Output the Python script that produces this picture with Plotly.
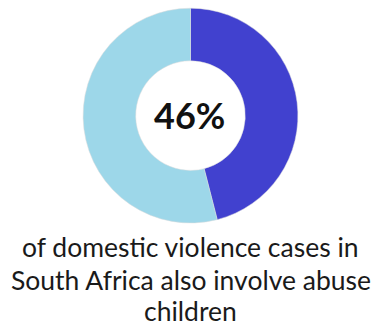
import plotly.graph_objects as go

labels = ["Involve child abuse", "Other"]
values = [46, 54]
colors = ["#4141CF", "#9DD7E9"]
center_label = "46%"
caption_lines = ["of domestic violence cases in", "South Africa also involve abuse", "children"]

fig = go.Figure(go.Pie(
    labels=labels, values=values, hole=0.51, sort=False, direction="clockwise",
    rotation=0, marker=dict(colors=colors, line=dict(color="#dddddd", width=0.5)),
    textinfo="none", hoverinfo="label+percent", showlegend=False,
    domain=dict(x=[0.15, 0.85], y=[0.318, 0.975]),
))

fig.add_annotation(text="<b>%s</b>" % center_label, x=0.497, y=0.648, xref="paper", yref="paper",
                   showarrow=False, font=dict(family="Lato", size=36, color="#111111"))
ys = [247, 280, 311]
for line, yy in zip(caption_lines, ys):
    fig.add_annotation(text=line, x=0.5, y=1 - yy / 327, xref="paper", yref="paper",
                       showarrow=False, xanchor="center", yanchor="middle",
                       font=dict(family="Lato", size=26.5, color="#1a1a1a"))

fig.update_layout(width=381, height=327, margin=dict(l=0, r=0, t=0, b=0),
                  paper_bgcolor="white", plot_bgcolor="white")
fig.write_html("out.html")
